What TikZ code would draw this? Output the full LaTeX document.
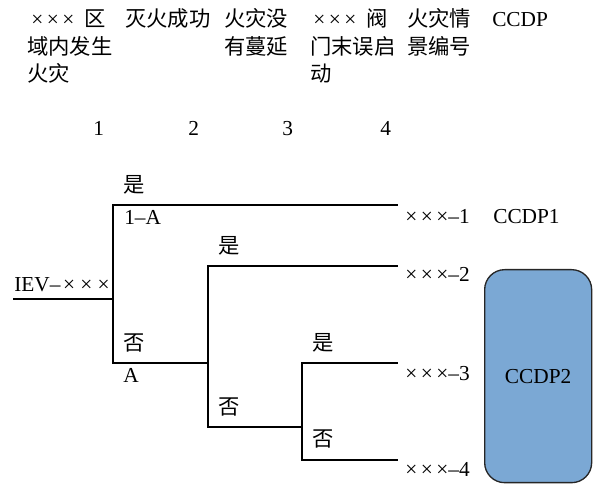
\documentclass[tikz,border=0pt]{standalone}
\usepackage{fontspec}
\setmainfont{Liberation Serif}
\newfontfamily\cjk{Noto Sans CJK SC}
\newcommand{\zh}[1]{{\cjk #1}}
\newcommand{\xxx}{×\,×\,×}
\definecolor{boxblue}{RGB}{123,168,212}
\begin{document}
\begin{tikzpicture}[x=0.75pt,y=-0.75pt,
  txt/.style={inner sep=0pt,anchor=base west,font=\fontsize{16pt}{21pt}\selectfont},
  branch/.style={line width=1pt,line cap=rect},
  ccdpbox/.style={draw=black!85,line width=1pt,fill=boxblue,rounded corners=15pt,inner sep=0pt}]
\useasboundingbox (0,0) rectangle (593,484);
% header
\node[txt] (h1a) at (31,27) {\xxx\hspace{0.45em}\zh{区}};
\node[txt] (h1b) at (27,55) {\zh{域内发生}};
\node[txt] (h1c) at (27,82) {\zh{火灾}};
\node[txt] (h2a) at (125,27) {\zh{灭火成功}};
\node[txt] (h3a) at (224,27) {\zh{火灾没}};
\node[txt] (h3b) at (224,55) {\zh{有蔓延}};
\node[txt] (h4a) at (313,27) {\xxx\hspace{0.45em}\zh{阀}};
\node[txt] (h4b) at (310,55) {\zh{门末误启}};
\node[txt] (h4c) at (310,82) {\zh{动}};
\node[txt] (h5a) at (407,27) {\zh{火灾情}};
\node[txt] (h5b) at (407,55) {\zh{景编号}};
\node[txt] (h6a) at (492,27) {CCDP};
\node[txt] (n1) at (93,136) {1};
\node[txt] (n2) at (188,136) {2};
\node[txt] (n3) at (282,136) {3};
\node[txt] (n4) at (380,136) {4};
% tree coordinates
\coordinate (s) at (14,299);
\coordinate (a) at (113,299);
\coordinate (aT) at (113,205);
\coordinate (aB) at (113,363);
\coordinate (e1) at (397,205);
\coordinate (b) at (208,363);
\coordinate (bT) at (208,266);
\coordinate (bB) at (208,427);
\coordinate (e2) at (397,266);
\coordinate (c) at (302,427);
\coordinate (cT) at (302,363);
\coordinate (cB) at (302,460);
\coordinate (e3) at (397,363);
\coordinate (e4) at (397,460);
\draw[branch] (s) -- (a);
\draw[branch] (e1) -- (aT) -- (aB) -- (b);
\draw[branch] (e2) -- (bT) -- (bB) -- (c);
\draw[branch] (e3) -- (cT) -- (cB) -- (e4);
% branch labels
\node[txt] (y1) at (123,193) {\zh{是}};
\node[txt] (p1) at (124,225) {1–A};
\node[txt] (y2) at (218,254) {\zh{是}};
\node[txt] (iev) at (14,292) {IEV–\hspace{0.12em}×\hspace{0.25em}×\hspace{0.25em}×};
\node[txt] (f1) at (123,351) {\zh{否}};
\node[txt] (pa) at (123,383) {A};
\node[txt] (f2) at (218,415) {\zh{否}};
\node[txt] (y3) at (312,351) {\zh{是}};
\node[txt] (f3) at (312,447) {\zh{否}};
% outcomes
\node[txt] (o1) at (405,224) {\xxx–1};
\node[txt] (o2) at (405,282) {\xxx–2};
\node[txt] (o3) at (405,381) {\xxx–3};
\node[txt] (o4) at (405,477) {\xxx–4};
\node[txt] (c1) at (493,224) {CCDP1};
\node[ccdpbox,minimum width=80.25pt,minimum height=159.75pt,anchor=north west] (c2) at (484,269) {};
\node[txt,anchor=center] (c2t) at (c2.center) {CCDP2};
\end{tikzpicture}
\end{document}
